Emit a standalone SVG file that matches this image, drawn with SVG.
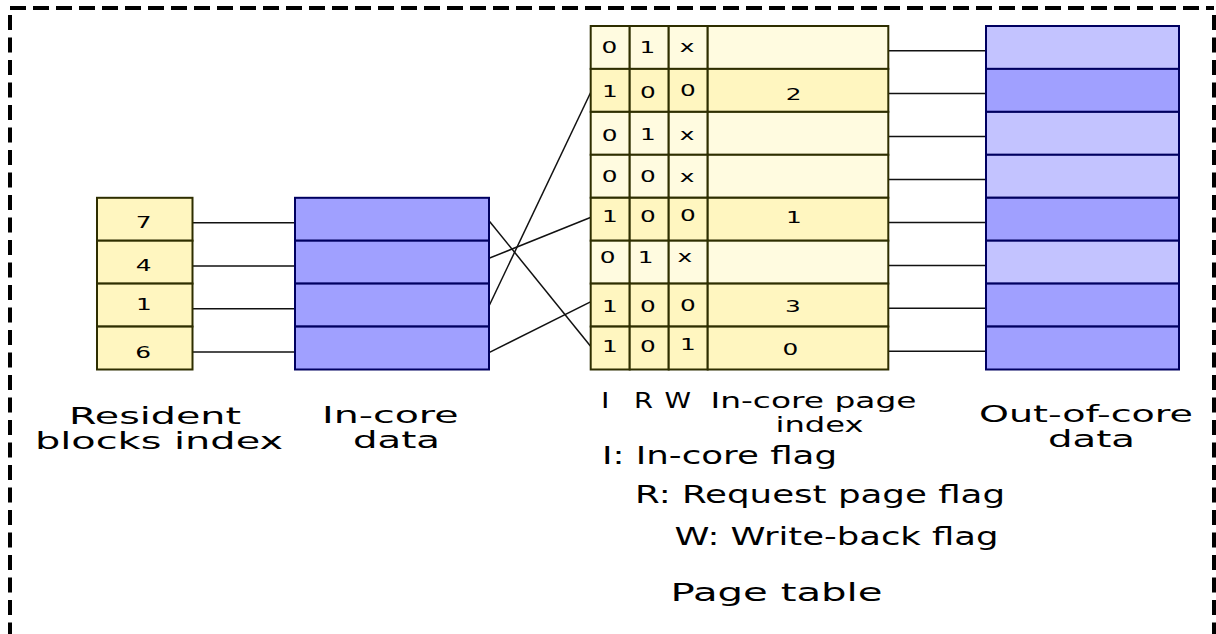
<svg xmlns="http://www.w3.org/2000/svg" width="1216" height="634" viewBox="0 0 1216 634">
<style>
.frame{fill:none;stroke:#000;stroke-width:4}
.y1{fill:#fff6c0;stroke:#2e2e00;stroke-width:2}
.y0{fill:#fffbe0;stroke:#2e2e00;stroke-width:2}
.b1{fill:#a0a0ff;stroke:#000060;stroke-width:2}
.b0{fill:#c3c3ff;stroke:#000060;stroke-width:2}
.conn line{stroke:#111;stroke-width:1.5}
.d{font-family:"DejaVu Sans",sans-serif;font-size:15.5px;text-anchor:middle;fill:#000}
.lbl{font-family:"DejaVu Sans",sans-serif;font-size:24px;fill:#000}
.two{font-family:"DejaVu Sans",sans-serif;font-size:23px;fill:#000}
.hdr{font-family:"DejaVu Sans",sans-serif;font-size:22px;fill:#000}
</style>
<rect width="1216" height="634" fill="#fff"/>
<g id="frame">
<path class="frame" d="M10,8 H1214" stroke-dasharray="16 7"/>
<path class="frame" d="M10,15 V640 M1214,15 V640" stroke-dasharray="15 7.5"/>
</g>

<g id="connectors" class="conn">
<line x1="193" y1="222.7" x2="294" y2="222.7"/>
<line x1="193" y1="266" x2="294" y2="266"/>
<line x1="193" y1="308.7" x2="294" y2="308.7"/>
<line x1="193" y1="352" x2="294" y2="352"/>
<line x1="489" y1="220.7" x2="591" y2="346.7"/>
<line x1="489" y1="258.3" x2="591" y2="217.3"/>
<line x1="489" y1="306" x2="591" y2="91.7"/>
<line x1="489" y1="352.7" x2="591" y2="301.7"/>
<line x1="889" y1="50.7" x2="985" y2="50.7"/>
<line x1="889" y1="93.6" x2="985" y2="93.6"/>
<line x1="889" y1="136.6" x2="985" y2="136.6"/>
<line x1="889" y1="179.5" x2="985" y2="179.5"/>
<line x1="889" y1="222.5" x2="985" y2="222.5"/>
<line x1="889" y1="265.4" x2="985" y2="265.4"/>
<line x1="889" y1="308.3" x2="985" y2="308.3"/>
<line x1="889" y1="351.3" x2="985" y2="351.3"/>
</g>

<g id="resident-blocks">
<rect class="y1" x="97" y="197.8" width="95.5" height="42.9"/>
<rect class="y1" x="97" y="240.7" width="95.5" height="42.9"/>
<rect class="y1" x="97" y="283.6" width="95.5" height="42.9"/>
<rect class="y1" x="97" y="326.6" width="95.5" height="42.9"/>
<g transform="scale(1.6,1)">
<text class="d" x="89.7" y="228.5">7</text>
<text class="d" x="89.7" y="271.5">4</text>
<text class="d" x="90" y="310.5">1</text>
<text class="d" x="89.4" y="358.5">6</text>
</g>
<text class="two" x="69" y="423.5" textLength="172" lengthAdjust="spacingAndGlyphs">Resident</text>
<text class="two" x="35" y="448.5" textLength="248" lengthAdjust="spacingAndGlyphs">blocks index</text>
</g>

<g id="in-core-data">
<rect class="b1" x="295" y="197.8" width="194" height="42.9"/>
<rect class="b1" x="295" y="240.7" width="194" height="42.9"/>
<rect class="b1" x="295" y="283.6" width="194" height="42.9"/>
<rect class="b1" x="295" y="326.6" width="194" height="42.9"/>
<text class="two" x="322" y="422.5" textLength="136.5" lengthAdjust="spacingAndGlyphs">In-core</text>
<text class="two" x="353" y="447.5" textLength="87" lengthAdjust="spacingAndGlyphs">data</text>
</g>

<g id="page-table">
<g id="pt-row0"><rect class="y0" x="590.7" y="26" width="39" height="42.9"/><rect class="y0" x="629.7" y="26" width="39" height="42.9"/><rect class="y0" x="668.7" y="26" width="39" height="42.9"/><rect class="y0" x="707.7" y="26" width="180.6" height="42.9"/></g>
<g id="pt-row1"><rect class="y1" x="590.7" y="68.9" width="39" height="42.9"/><rect class="y1" x="629.7" y="68.9" width="39" height="42.9"/><rect class="y1" x="668.7" y="68.9" width="39" height="42.9"/><rect class="y1" x="707.7" y="68.9" width="180.6" height="42.9"/></g>
<g id="pt-row2"><rect class="y0" x="590.7" y="111.9" width="39" height="42.9"/><rect class="y0" x="629.7" y="111.9" width="39" height="42.9"/><rect class="y0" x="668.7" y="111.9" width="39" height="42.9"/><rect class="y0" x="707.7" y="111.9" width="180.6" height="42.9"/></g>
<g id="pt-row3"><rect class="y0" x="590.7" y="154.8" width="39" height="42.9"/><rect class="y0" x="629.7" y="154.8" width="39" height="42.9"/><rect class="y0" x="668.7" y="154.8" width="39" height="42.9"/><rect class="y0" x="707.7" y="154.8" width="180.6" height="42.9"/></g>
<g id="pt-row4"><rect class="y1" x="590.7" y="197.8" width="39" height="42.9"/><rect class="y1" x="629.7" y="197.8" width="39" height="42.9"/><rect class="y1" x="668.7" y="197.8" width="39" height="42.9"/><rect class="y1" x="707.7" y="197.8" width="180.6" height="42.9"/></g>
<g id="pt-row5"><rect class="y0" x="590.7" y="240.7" width="39" height="42.9"/><rect class="y0" x="629.7" y="240.7" width="39" height="42.9"/><rect class="y0" x="668.7" y="240.7" width="39" height="42.9"/><rect class="y0" x="707.7" y="240.7" width="180.6" height="42.9"/></g>
<g id="pt-row6"><rect class="y1" x="590.7" y="283.6" width="39" height="42.9"/><rect class="y1" x="629.7" y="283.6" width="39" height="42.9"/><rect class="y1" x="668.7" y="283.6" width="39" height="42.9"/><rect class="y1" x="707.7" y="283.6" width="180.6" height="42.9"/></g>
<g id="pt-row7"><rect class="y1" x="590.7" y="326.6" width="39" height="42.9"/><rect class="y1" x="629.7" y="326.6" width="39" height="42.9"/><rect class="y1" x="668.7" y="326.6" width="39" height="42.9"/><rect class="y1" x="707.7" y="326.6" width="180.6" height="42.9"/></g>
<g transform="scale(1.6,1)">
<text class="d" x="380.9" y="52.7">0</text><text class="d" x="404.7" y="52.7">1</text><text class="d" x="429.4" y="52.5">x</text>
<text class="d" x="381.2" y="96.7">1</text><text class="d" x="405" y="97.7">0</text><text class="d" x="430" y="96">0</text><text class="d" x="496" y="100">2</text>
<text class="d" x="381" y="141">0</text><text class="d" x="405" y="140.5">1</text><text class="d" x="429.4" y="140.5">x</text>
<text class="d" x="381" y="182.3">0</text><text class="d" x="405" y="182.3">0</text><text class="d" x="429.4" y="182">x</text>
<text class="d" x="381.2" y="222.3">1</text><text class="d" x="405" y="222.5">0</text><text class="d" x="430" y="221">0</text><text class="d" x="496.2" y="223.3">1</text>
<text class="d" x="379.7" y="263.3">0</text><text class="d" x="403.5" y="263">1</text><text class="d" x="428.1" y="262">x</text>
<text class="d" x="381.2" y="311.7">1</text><text class="d" x="405" y="312.3">0</text><text class="d" x="430" y="310.7">0</text><text class="d" x="495.6" y="311.7">3</text>
<text class="d" x="381.2" y="351.7">1</text><text class="d" x="405" y="352.3">0</text><text class="d" x="430" y="350">1</text><text class="d" x="494" y="355">0</text>
</g>
<text class="hdr" x="601" y="408" textLength="8.5" lengthAdjust="spacingAndGlyphs">I</text>
<text class="hdr" x="634" y="408" textLength="19" lengthAdjust="spacingAndGlyphs">R</text>
<text class="hdr" x="664.5" y="408" textLength="26.5" lengthAdjust="spacingAndGlyphs">W</text>
<text class="hdr" x="710.5" y="408" textLength="206" lengthAdjust="spacingAndGlyphs">In-core page</text>
<text class="hdr" x="775.5" y="432" textLength="88" lengthAdjust="spacingAndGlyphs">index</text>
<text class="lbl" x="602" y="463.5" textLength="235" lengthAdjust="spacingAndGlyphs">I: In-core flag</text>
<text class="lbl" x="635" y="503" textLength="370" lengthAdjust="spacingAndGlyphs">R: Request page flag</text>
<text class="lbl" x="674.5" y="545" textLength="324" lengthAdjust="spacingAndGlyphs">W: Write-back flag</text>
<text class="lbl" x="670.5" y="601" textLength="212" lengthAdjust="spacingAndGlyphs" style="font-size:25px">Page table</text>
</g>

<g id="out-of-core-data">
<rect class="b0" x="986" y="26" width="193" height="42.9"/>
<rect class="b1" x="986" y="68.9" width="193" height="42.9"/>
<rect class="b0" x="986" y="111.9" width="193" height="42.9"/>
<rect class="b0" x="986" y="154.8" width="193" height="42.9"/>
<rect class="b1" x="986" y="197.8" width="193" height="42.9"/>
<rect class="b0" x="986" y="240.7" width="193" height="42.9"/>
<rect class="b1" x="986" y="283.6" width="193" height="42.9"/>
<rect class="b1" x="986" y="326.6" width="193" height="42.9"/>
<text class="two" x="979" y="422" textLength="214" lengthAdjust="spacingAndGlyphs">Out-of-core</text>
<text class="two" x="1048" y="447" textLength="87" lengthAdjust="spacingAndGlyphs">data</text>
</g>
</svg>
